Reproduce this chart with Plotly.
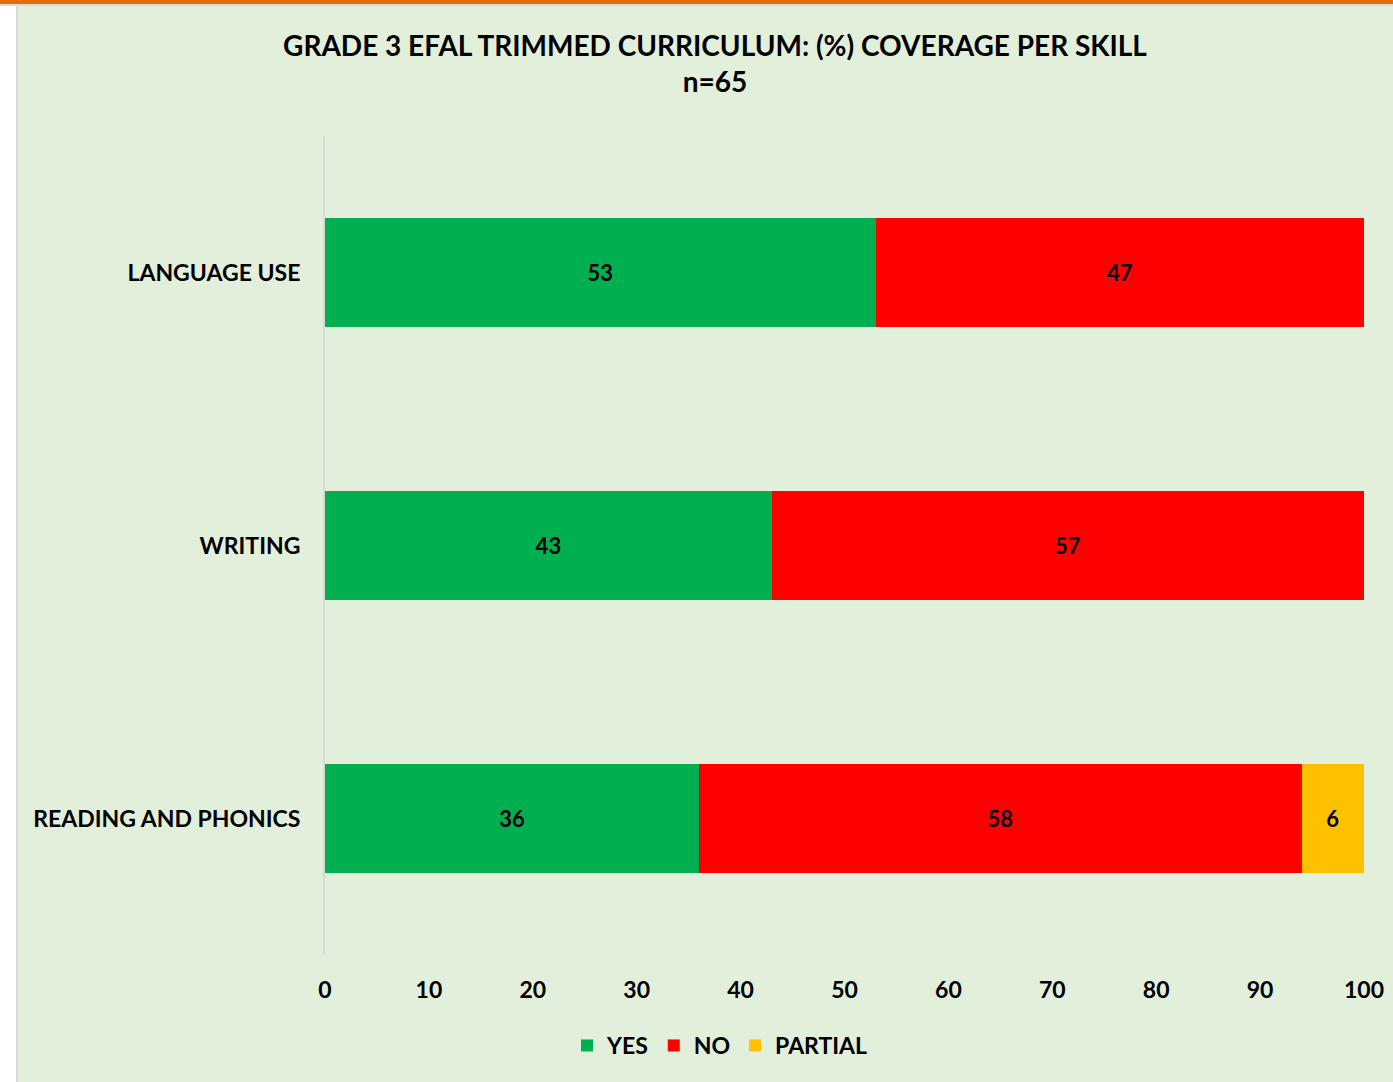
import plotly.graph_objects as go

categories = ["READING AND PHONICS", "WRITING", "LANGUAGE USE"]
yes_vals = [36, 43, 53]
no_vals = [58, 57, 47]
partial_vals = [6, None, None]
x_ticks = [0, 10, 20, 30, 40, 50, 60, 70, 80, 90, 100]

W, H = 1393, 1082
L, R, T, B = 325, 29, 136, 127
pw = W - L - R
ph = H - T - B
FONT = "Lato"

def px_x(p):
    return (p - L) / pw

def px_y(p):
    return (H - B - p) / ph

fig = go.Figure()
series = [("YES", yes_vals, "#00B050"), ("NO", no_vals, "#FF0000"), ("PARTIAL", partial_vals, "#FFC000")]
for name, vals, col in series:
    fig.add_trace(go.Bar(
        y=categories, x=vals, name=name, orientation="h",
        marker=dict(color=col, line=dict(width=0)),
        text=[v if v is not None else "" for v in vals],
        textposition="inside", insidetextanchor="middle",
        textfont=dict(family=FONT, size=22, color="black", weight="bold"),
        constraintext="none",
    ))

shapes = [
    dict(type="rect", xref="paper", yref="paper", x0=px_x(0), x1=px_x(16), y0=px_y(H), y1=px_y(0),
         fillcolor="white", line=dict(width=0), layer="below"),
    dict(type="rect", xref="paper", yref="paper", x0=px_x(16), x1=px_x(18), y0=px_y(H), y1=px_y(4),
         fillcolor="#D9D9D9", line=dict(width=0), layer="below"),
    dict(type="rect", xref="paper", yref="paper", x0=px_x(0), x1=px_x(W), y0=px_y(6), y1=px_y(4),
         fillcolor="#D9D9D9", line=dict(width=0), layer="below"),
    dict(type="rect", xref="paper", yref="paper", x0=px_x(0), x1=px_x(W), y0=px_y(4), y1=px_y(0),
         fillcolor="#E46C0A", line=dict(width=0), layer="below"),
]

fig.update_layout(
    width=W, height=H,
    margin=dict(l=L, r=R, t=T, b=B, autoexpand=False),
    paper_bgcolor="#E2EFDA", plot_bgcolor="#E2EFDA",
    barmode="stack", bargap=0.6,
    title=dict(text="GRADE 3 EFAL TRIMMED CURRICULUM: (%) COVERAGE PER SKILL<br>n=65",
               x=715 / W, xanchor="center", xref="container",
               y=1 - 56 / H, yanchor="top", yref="container",
               font=dict(family=FONT, size=28, color="black", weight="bold")),
    xaxis=dict(range=[0, 100], tickvals=x_ticks, showgrid=False, zeroline=False, showline=False,
               tickfont=dict(family=FONT, size=23, color="black", weight="bold"),
               ticks="", ticklabelstandoff=19, fixedrange=True),
    yaxis=dict(showgrid=False, zeroline=False, showline=True, linecolor="#D9D9D9", linewidth=2,
               tickfont=dict(family=FONT, size=23, color="black", weight="bold"),
               ticks="", ticklabelstandoff=18, range=[-0.5, 2.5]),
    legend=dict(orientation="h", x=720 / W, xanchor="center", xref="container",
                y=1 - 1024 / H, yanchor="top", yref="container",
                font=dict(family=FONT, size=23, color="black", weight="bold"),
                bgcolor="rgba(0,0,0,0)", traceorder="normal", itemwidth=30),
    shapes=shapes,
    showlegend=True,
)

fig.write_html("out.html", config={"displayModeBar": False},
               post_script="document.body.style.margin='0';document.body.style.padding='0';")
